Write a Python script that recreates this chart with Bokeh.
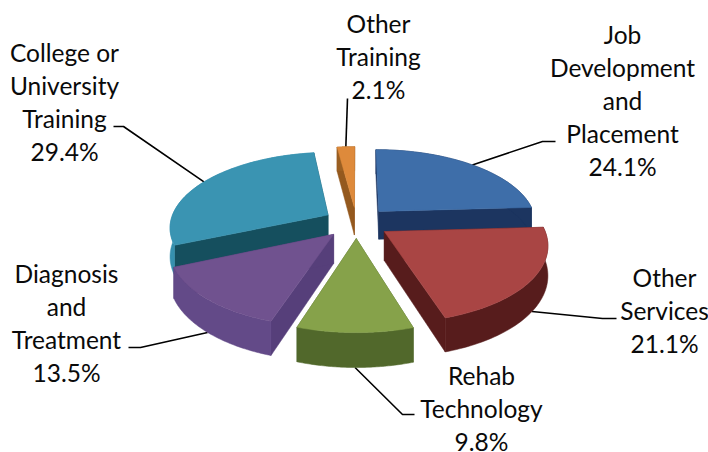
import math
from bokeh.plotting import figure
from bokeh.models import Range1d
from bokeh.core.properties import value
from bokeh.embed import file_html
from bokeh.resources import INLINE

# data (clockwise from 12 o'clock)
categories = ["Job Development and Placement", "Other Services", "Rehab Technology",
              "Diagnosis and Treatment", "College or University Training", "Other Training"]
shares = [24.1, 21.1, 9.8, 13.5, 29.4, 2.1]
label_lines = [["Job", "Development", "and", "Placement", "24.1%"],
               ["Other", "Services", "21.1%"],
               ["Rehab", "Technology", "9.8%"],
               ["Diagnosis", "and", "Treatment", "13.5%"],
               ["College or", "University", "Training", "29.4%"],
               ["Other", "Training", "2.1%"]]
top_colors = ["#3E6EA9", "#A94544", "#86A24A", "#70528F", "#3A94B2", "#DE8A3B"]
outer_colors = ["#1C3560", "#571C1C", "#51682B", "#634A88", "#3690AE", "#9A5F22"]
cut_colors = ["#1C3560", "#571C1C", "#4A6027", "#563F7A", "#154F5E", "#94591E"]

# styling / layout
CX, CY, R, TILT, PERSP, DEPTH, EXPLODE = 356, 222, 158, 0.47, 0.152, 28.5, 0.21
label_xy = [(622, 34), (664, 277), (481, 375), (66, 273), (64, 52), (378, 23)]
leader_rim = ["top", "bottom", "bottom", "bottom", "top", "top"]
leader_ends = [[(542, 141), (555, 141)], [(602, 318), (616, 318)], [(402, 414), (414, 414)],
               [(140, 347), (128, 347)], [(123, 126), (113, 126)], [(347, 98)]]
draw_order = [5, 0, 4, 3, 1, 2]
FONT = "Lato"
FONT_SIZE = "24.5px"
LINE_H = 33


def project(X, Y, bottom=False):
    w = 1 + PERSP * Y
    x = CX + R * X / w
    y = CY - R * TILT * Y / w + (DEPTH / w if bottom else 0)
    return x, y


total = sum(shares)
spans = []
acc = 0.0
for s in shares:
    spans.append((acc / total * 2 * math.pi, (acc + s) / total * 2 * math.pi))
    acc += s


def rim(i, a, bottom=False):
    mid = sum(spans[i]) / 2
    ox, oy = EXPLODE * math.sin(mid), EXPLODE * math.cos(mid)
    return project(ox + math.sin(a), oy + math.cos(a), bottom)


def apex(i, bottom=False):
    mid = sum(spans[i]) / 2
    return project(EXPLODE * math.sin(mid), EXPLODE * math.cos(mid), bottom)


p = figure(width=708, height=452, output_backend="svg", toolbar_location=None,
           x_range=Range1d(0, 708), y_range=Range1d(452, 0),
           x_axis_location=None, y_axis_location=None, min_border=0,
           outline_line_color=None, background_fill_color="white")
p.grid.visible = False


def poly(points, color):
    p.patch([q[0] for q in points], [q[1] for q in points],
            fill_color=color, line_color=color, line_width=0.5)


# leader lines
for i in range(6):
    mid = sum(spans[i]) / 2
    start = rim(i, mid, leader_rim[i] == "bottom")
    pts = [start] + leader_ends[i]
    p.line([q[0] for q in pts], [q[1] for q in pts], line_color="#000000", line_width=1.6)

# wedges back to front
for i in draw_order:
    a0, a1 = spans[i]
    n = 60
    angs = [a0 + (a1 - a0) * k / n for k in range(n + 1)]
    top = [rim(i, a) for a in angs]
    bot = [rim(i, a, True) for a in angs]
    poly([apex(i), top[0], bot[0], apex(i, True)], cut_colors[i])
    poly([apex(i), top[-1], bot[-1], apex(i, True)], cut_colors[i])
    poly(top + bot[::-1], outer_colors[i])
    poly([apex(i)] + top, top_colors[i])

# labels
for lines, (x, y0) in zip(label_lines, label_xy):
    p.text([x] * len(lines), [y0 + LINE_H * k for k in range(len(lines))], text=lines,
           text_font=value(FONT), text_font_size=value(FONT_SIZE),
           text_align="center", text_baseline="middle", text_color="#0A0A0A")

open("out.html", "w").write(file_html(p, INLINE))
